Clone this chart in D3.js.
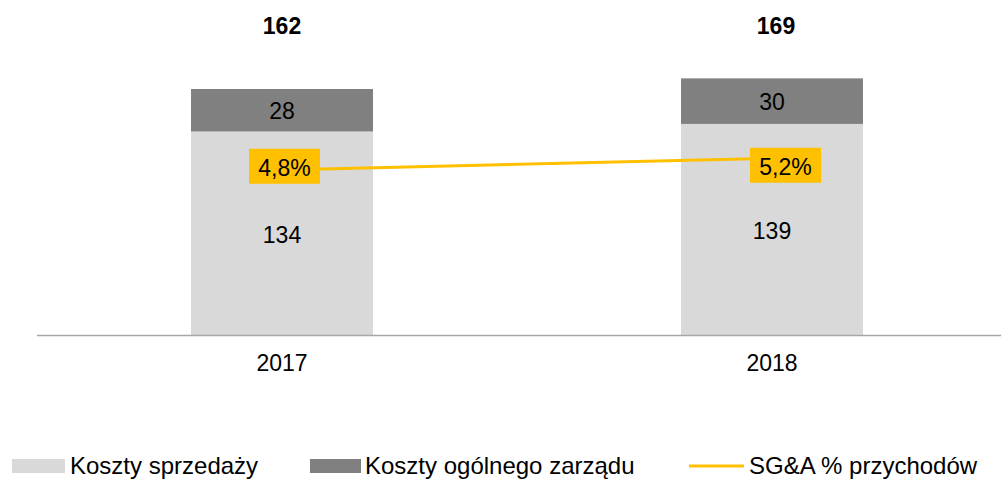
<!DOCTYPE html>
<html><head><meta charset="utf-8">
<script src="https://cdn.jsdelivr.net/npm/d3@7"></script>
<style>body{margin:0;background:#fff}svg{display:block;font-family:Arial,"Liberation Sans",sans-serif}</style>
</head><body><svg id="c" width="1001" height="479"></svg>
<script>
const years = ["2017", "2018"];
const sales = [134, 139];
const admin = [28, 30];
const totals = [162, 169];
const pct = [4.8, 5.2];
const pctLabels = ["4,8%", "5,2%"];
const seriesNames = ["Koszty sprzedaży", "Koszty ogólnego zarządu", "SG&A % przychodów"];

const svg = d3.select("#c");
const base = 335;
const x = d3.scaleBand().domain(years).range([37, 1017]).paddingInner(0.63).paddingOuter(0.315);
const y = d3.scaleLinear().domain([0, 162]).range([base, 89]);
const y2 = d3.scaleLinear().domain([0, 10]).range([310.6, 17.6]);
const cLight = "#D9D9D9", cDark = "#808080", cLine = "#FFC000";
const bw = 182;
const fs = 23;
const cx = d => x(d) + x.bandwidth() / 2;

const data = years.map((yr, i) => ({yr, s: sales[i], a: admin[i], t: totals[i], p: pct[i], pl: pctLabels[i]}));

svg.selectAll(".s").data(data).join("rect")
  .attr("x", d => cx(d.yr) - bw / 2).attr("width", bw)
  .attr("y", d => y(d.s)).attr("height", d => base - y(d.s)).attr("fill", cLight);
svg.selectAll(".a").data(data).join("rect")
  .attr("x", d => cx(d.yr) - bw / 2).attr("width", bw)
  .attr("y", d => y(d.s + d.a)).attr("height", d => y(d.s) - y(d.s + d.a)).attr("fill", cDark);

svg.append("line").attr("x1", 37).attr("x2", 1001).attr("y1", base + 0.5).attr("y2", base + 0.5)
  .attr("stroke", "#A6A6A6").attr("stroke-width", 1.5);

svg.selectAll(".yl").data(data).join("text")
  .attr("x", d => cx(d.yr)).attr("y", 371).attr("text-anchor", "middle")
  .attr("font-size", fs).attr("fill", "#000").text(d => d.yr);

svg.selectAll(".sl").data(data).join("text")
  .attr("x", d => cx(d.yr)).attr("y", d => (y(d.s) + base) / 2 + 10).attr("text-anchor", "middle")
  .attr("font-size", fs).text(d => d.s);
svg.selectAll(".al").data(data).join("text")
  .attr("x", d => cx(d.yr)).attr("y", d => (y(d.s) + y(d.s + d.a)) / 2 + 9).attr("text-anchor", "middle")
  .attr("font-size", fs).text(d => d.a);
svg.selectAll(".tl").data(data).join("text")
  .attr("x", (d, i) => cx(d.yr) + (i === 1 ? 4 : 0)).attr("y", 34).attr("text-anchor", "middle")
  .attr("font-size", fs).attr("font-weight", "bold").text(d => d.t);

const line = d3.line().x(d => cx(d.yr)).y(d => y2(d.p));
svg.append("path").datum(data).attr("d", line).attr("fill", "none")
  .attr("stroke", cLine).attr("stroke-width", 3);

const offX = [2.5, 13.5], offY = [-3.7, 7];
const g = svg.selectAll(".pl").data(data).join("g")
  .attr("transform", (d, i) => `translate(${cx(d.yr) + offX[i]},${y2(d.p) + offY[i]})`);
g.append("rect").attr("x", -35.5).attr("y", -17.5).attr("width", 71).attr("height", 35).attr("fill", cLine);
g.append("text").attr("text-anchor", "middle").attr("y", 9.5).attr("font-size", fs).text(d => d.pl);

// legend
const lfs = 24;
const lg = svg.append("g");
lg.append("rect").attr("x", 12).attr("y", 459).attr("width", 53).attr("height", 14).attr("fill", cLight);
lg.append("text").attr("x", 70).attr("y", 474).attr("font-size", lfs).text(seriesNames[0]);
lg.append("rect").attr("x", 310).attr("y", 459).attr("width", 51).attr("height", 14).attr("fill", cDark);
lg.append("text").attr("x", 365).attr("y", 474).attr("font-size", lfs).text(seriesNames[1]);
lg.append("line").attr("x1", 689).attr("x2", 744).attr("y1", 466).attr("y2", 466).attr("stroke", cLine).attr("stroke-width", 3);
lg.append("text").attr("x", 749).attr("y", 474).attr("font-size", lfs).text(seriesNames[2]);
</script></body></html>
